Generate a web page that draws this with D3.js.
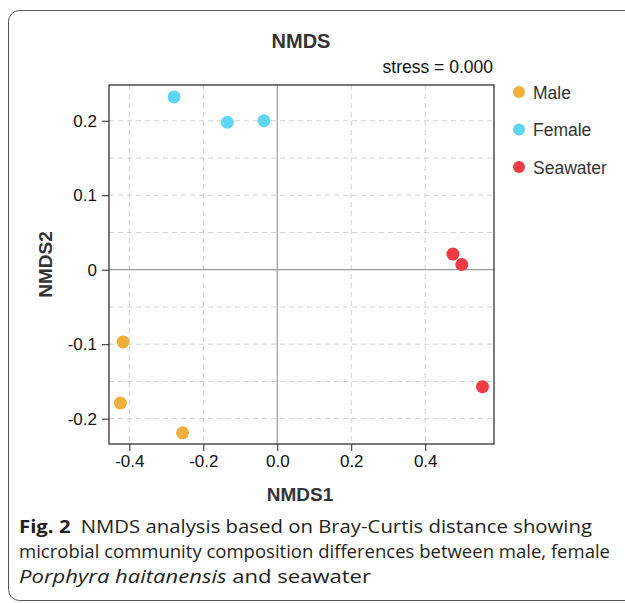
<!DOCTYPE html>
<html>
<head>
<meta charset="utf-8">
<script src="https://cdn.jsdelivr.net/npm/d3@7"></script>
<style>
  body { margin: 0; background: #fff; }
</style>
</head>
<body>
<svg id="chart" width="625" height="603" style="font-family: 'Liberation Sans', Arial, sans-serif;"></svg>
<script>
// groups and their colours
var groups = ['Male', 'Female', 'Seawater'];
var groupColors = ['#f0ae3d', '#5ed6f6', '#ee3b46'];

// sample scores
var sampleGroup = ['Male', 'Male', 'Male', 'Female', 'Female', 'Female', 'Seawater', 'Seawater', 'Seawater'];
var nmds1 = [-0.417, -0.424, -0.256, -0.279, -0.135, -0.036, 0.475, 0.499, 0.555];
var nmds2 = [-0.097, -0.179, -0.219, 0.232, 0.198, 0.200, 0.021, 0.007, -0.157];

var xTicks = [-0.4, -0.2, 0.0, 0.2, 0.4];
var yTicks = [-0.2, -0.1, 0, 0.1, 0.2];
var yGrid = [-0.2, -0.15, -0.1, -0.05, 0.05, 0.1, 0.15, 0.2];

var svg = d3.select('#chart');

// figure frame
svg.append('rect')
    .attr('x', 8.5)
    .attr('y', 10.5)
    .attr('width', 640)
    .attr('height', 590)
    .attr('rx', 11)
    .attr('fill', 'none')
    .attr('stroke', '#555')
    .attr('stroke-width', 1);

var pLeft = 109, pRight = 494, pTop = 85, pBottom = 444;

var x = d3.scaleLinear().domain([-0.455, 0.586]).range([pLeft, pRight]);
var y = d3.scaleLinear().domain([-0.234, 0.248]).range([pBottom, pTop]);
var color = d3.scaleOrdinal().domain(groups).range(groupColors);

// plain hyphen for negatives, as in the figure
var fmt = function(d) { return d === 0 ? '0' : d3.format('.1f')(d).replace('\u2212', '-'); };
var fmtX = function(d) { return d3.format('.1f')(d).replace('\u2212', '-'); };

var plot = svg.append('g');

// dashed grid
plot.selectAll('line.vgrid')
    .data(xTicks.filter(function(d) { return d !== 0; }))
    .enter().append('line')
    .attr('class', 'vgrid')
    .attr('x1', function(d) { return x(d); })
    .attr('x2', function(d) { return x(d); })
    .attr('y1', pTop)
    .attr('y2', pBottom)
    .attr('stroke', '#d0d0d0')
    .attr('stroke-dasharray', '5,4');

plot.selectAll('line.hgrid')
    .data(yGrid)
    .enter().append('line')
    .attr('class', 'hgrid')
    .attr('x1', pLeft)
    .attr('x2', pRight)
    .attr('y1', function(d) { return y(d); })
    .attr('y2', function(d) { return y(d); })
    .attr('stroke', '#d0d0d0')
    .attr('stroke-dasharray', '5,4');

// zero lines
plot.append('line')
    .attr('x1', x(0)).attr('x2', x(0))
    .attr('y1', pTop).attr('y2', pBottom)
    .attr('stroke', '#9a9a9a').attr('stroke-width', 1.2);
plot.append('line')
    .attr('x1', pLeft).attr('x2', pRight)
    .attr('y1', y(0)).attr('y2', y(0))
    .attr('stroke', '#9a9a9a').attr('stroke-width', 1.2);

// axes
var xAxis = svg.append('g')
    .attr('transform', 'translate(0,' + pBottom + ')')
    .call(d3.axisBottom(x).tickValues(xTicks).tickSize(7).tickPadding(4).tickFormat(fmtX));
var yAxis = svg.append('g')
    .attr('transform', 'translate(' + pLeft + ',0)')
    .call(d3.axisLeft(y).tickValues(yTicks).tickSize(7).tickPadding(5).tickFormat(fmt));

[xAxis, yAxis].forEach(function(a) {
    a.select('.domain').remove();
    a.selectAll('.tick line').attr('stroke', '#222');
    a.selectAll('.tick text')
        .attr('fill', '#111')
        .style('font-size', '17px')
        .style('font-family', '"Liberation Sans", Arial, sans-serif');
});

// plot border
svg.append('rect')
    .attr('x', pLeft)
    .attr('y', pTop)
    .attr('width', pRight - pLeft)
    .attr('height', pBottom - pTop)
    .attr('fill', 'none')
    .attr('stroke', '#333')
    .attr('stroke-width', 1.3);

// points
svg.selectAll('circle.pt')
    .data(nmds1.map(function(v, i) { return { x: v, y: nmds2[i], g: sampleGroup[i] }; }))
    .enter().append('circle')
    .attr('class', 'pt')
    .attr('cx', function(d) { return x(d.x); })
    .attr('cy', function(d) { return y(d.y); })
    .attr('r', 6.5)
    .attr('fill', function(d) { return color(d.g); });

// titles
svg.append('text')
    .attr('x', 301).attr('y', 48)
    .attr('text-anchor', 'middle')
    .style('font-size', '20px').style('font-weight', 'bold')
    .attr('fill', '#333')
    .text('NMDS');

svg.append('text')
    .attr('x', 493).attr('y', 73)
    .attr('text-anchor', 'end')
    .style('font-size', '17.5px')
    .attr('fill', '#111')
    .text('stress = 0.000');

svg.append('text')
    .attr('x', 300).attr('y', 501)
    .attr('text-anchor', 'middle')
    .style('font-size', '19px').style('font-weight', 'bold')
    .attr('fill', '#333')
    .text('NMDS1');

svg.append('text')
    .attr('transform', 'translate(52,' + ((pTop + pBottom) / 2) + ') rotate(-90)')
    .attr('text-anchor', 'middle')
    .style('font-size', '19px').style('font-weight', 'bold')
    .attr('fill', '#333')
    .text('NMDS2');

// legend
var legend = svg.selectAll('g.legend')
    .data(groups)
    .enter().append('g')
    .attr('class', 'legend')
    .attr('transform', function(d, i) { return 'translate(519,' + (92 + i * 37.5) + ')'; });

legend.append('circle')
    .attr('r', 6)
    .attr('fill', function(d) { return color(d); });

legend.append('text')
    .attr('x', 14).attr('y', 6.5)
    .style('font-size', '17.5px')
    .attr('fill', '#333')
    .text(function(d) { return d; });

// caption
var capFont = '"Open Sans", "Noto Sans", sans-serif';
var captionLines = [
    { y: 533, w: 573 },
    { y: 558, w: 591 },
    { y: 583, w: 352 }
];

var capText = svg.selectAll('text.cap')
    .data(captionLines)
    .enter().append('text')
    .attr('class', 'cap')
    .attr('x', 19)
    .attr('y', function(d) { return d.y; })
    .style('font-family', capFont)
    .style('font-size', '17.5px')
    .attr('fill', '#231f20');

var t1 = d3.select(capText.nodes()[0]);
t1.append('tspan').style('font-weight', 'bold').text('Fig. 2');
t1.append('tspan').text('\u2002NMDS analysis based on Bray-Curtis distance showing');

d3.select(capText.nodes()[1]).text('microbial community composition differences between male, female');

var t3 = d3.select(capText.nodes()[2]);
t3.append('tspan').style('font-style', 'italic').text('Porphyra haitanensis');
t3.append('tspan').text(' and seawater');

// fit caption lines to the widths seen in the figure
capText.each(function(d) {
    d3.select(this).attr('textLength', d.w).attr('lengthAdjust', 'spacingAndGlyphs');
});
</script>
</body>
</html>
